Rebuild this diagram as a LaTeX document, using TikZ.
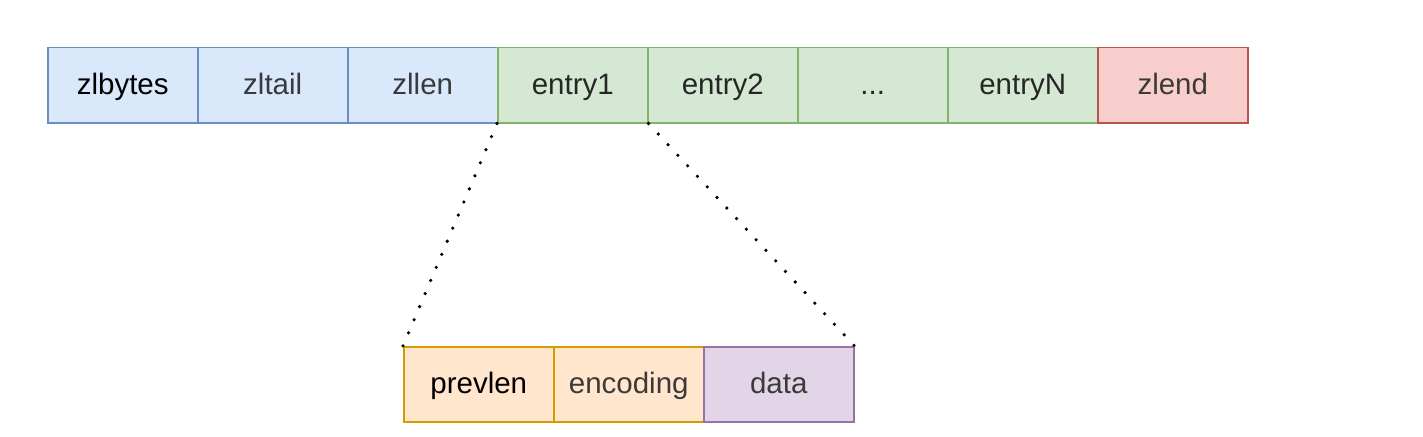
\documentclass[tikz,border=0pt]{standalone}
\usepackage{fontspec}
\setmainfont{Liberation Sans}
\begin{document}
\begin{tikzpicture}[x=1pt,y=-1pt,
  cell/.style={draw,line width=1.5pt,minimum width=150pt,minimum height=75pt,inner sep=0pt,anchor=north west,text height=23pt,text depth=4pt,font=\fontsize{29.5}{32}\selectfont},
  bluec/.style={cell,fill=blueF,draw=blueD},
  greenc/.style={cell,fill=greenF,draw=greenD},
  redc/.style={cell,fill=redF,draw=redD},
  orangec/.style={cell,fill=orangeF,draw=orangeD},
  purplec/.style={cell,fill=purpleF,draw=purpleD},
  dk/.style={text=black},
  gr/.style={text=txtgray},
  dots/.style={line width=3.6pt,line cap=round}]
\definecolor{blueF}{HTML}{DAE8FC}\definecolor{blueD}{HTML}{6C8EBF}
\definecolor{greenF}{HTML}{D5E8D4}\definecolor{greenD}{HTML}{82B366}
\definecolor{redF}{HTML}{F8CECC}\definecolor{redD}{HTML}{B85450}
\definecolor{orangeF}{HTML}{FFE6CC}\definecolor{orangeD}{HTML}{D79B00}
\definecolor{purpleF}{HTML}{E1D5E7}\definecolor{purpleD}{HTML}{9673A6}
\definecolor{txtgray}{HTML}{3A3A3A}
\useasboundingbox (0,0) rectangle (1423,436);
\fill[white] (0,0) rectangle (1423,436);
\node[bluec,dk] (zlbytes) at (47,47) {zlbytes};
\node[bluec,gr] (zltail) at (197,47) {zltail};
\node[bluec,gr] (zllen) at (347,47) {zllen};
\node[greenc,text=black!85] (entry1) at (497,47) {entry1};
\node[greenc,text=black!85] (entry2) at (647,47) {entry2};
\node[greenc,text=black!85] (dotsc) at (797,47) {...};
\node[greenc,text=black!85] (entryN) at (947,47) {entryN};
\node[redc,gr] (zlend) at (1097,47) {zlend};
\node[orangec,dk] (prevlen) at (403,346) {prevlen};
\node[orangec,gr] (encoding) at (553,346) {encoding};
\node[purplec,gr] (data) at (703,346) {data};
\draw[dots,dash pattern=on 0pt off 14.2pt] (entry1.south west) -- (prevlen.north west);
\draw[dots,dash pattern=on 0pt off 14.4pt] (entry1.south east) -- (data.north east);
\end{tikzpicture}
\end{document}
